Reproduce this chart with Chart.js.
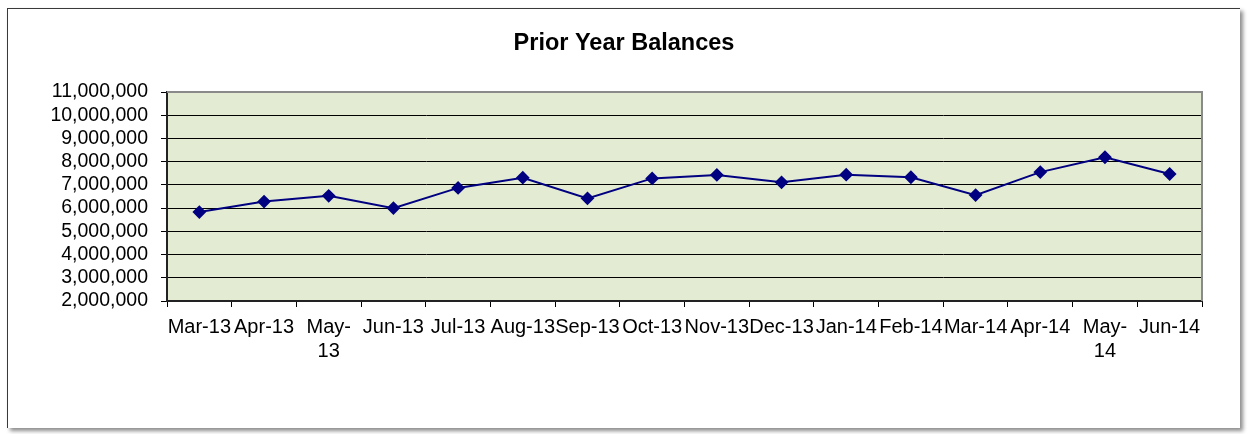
<!DOCTYPE html>
<html>
<head>
<meta charset="utf-8">
<script src="https://cdn.jsdelivr.net/npm/chart.js@4.4.1/dist/chart.umd.min.js"></script>
<style>
  html, body { margin: 0; padding: 0; background: #fff; overflow: hidden; }
  #frame { position: absolute; left: 7px; top: 8px; width: 1232px; height: 419px;
           border-left: 1px solid #3a3a3a; border-top: 1px solid #3a3a3a;
           box-shadow: 3px 3px 4px rgba(0,0,0,0.45); background: #fff; }
  #c { position: absolute; left: 0; top: 0; }
</style>
</head>
<body>
<div id="frame"></div>
<canvas id="c" width="1249" height="434"></canvas>
<script>
const chartTitle = 'Prior Year Balances';
const categories = ['Mar-13','Apr-13','May-13','Jun-13','Jul-13','Aug-13','Sep-13','Oct-13','Nov-13','Dec-13','Jan-14','Feb-14','Mar-14','Apr-14','May-14','Jun-14'];
const tickLabels = ['Mar-13','Apr-13',['May-','13'],'Jun-13','Jul-13','Aug-13','Sep-13','Oct-13','Nov-13','Dec-13','Jan-14','Feb-14','Mar-14','Apr-14',['May-','14'],'Jun-14'];
const balances = [5830000, 6280000, 6530000, 6000000, 6870000, 7310000, 6420000, 7280000, 7430000, 7110000, 7440000, 7330000, 6560000, 7550000, 8190000, 7470000];
const yMin = 2000000, yMax = 11000000, yStep = 1000000;

const FONT = "'Liberation Sans', Arial, sans-serif";

const plotBg = {
  id: 'plotBg',
  beforeDraw(chart) {
    const {ctx, chartArea: a} = chart;
    ctx.save();
    ctx.fillStyle = '#E3EBD2';
    ctx.fillRect(a.left, a.top, a.right - a.left, a.bottom - a.top);
    ctx.restore();
  },
  afterDraw(chart) {
    const {ctx, chartArea: a} = chart;
    ctx.save();
    ctx.strokeStyle = '#8a8a8a';
    ctx.lineWidth = 2;
    ctx.beginPath();
    ctx.moveTo(a.left, a.top);
    ctx.lineTo(a.right, a.top);
    ctx.lineTo(a.right, a.bottom);
    ctx.stroke();
    ctx.fillStyle = '#000';
    ctx.font = 'bold 23.5px ' + FONT;
    ctx.textAlign = 'center';
    ctx.textBaseline = 'alphabetic';
    ctx.fillText(chartTitle, 624, 50);
    ctx.restore();
  }
};

new Chart(document.getElementById('c'), {
  type: 'line',
  data: {
    labels: tickLabels,
    datasets: [{
      label: chartTitle,
      data: balances,
      borderColor: '#000080',
      backgroundColor: '#000080',
      borderWidth: 2,
      pointStyle: 'rectRot',
      pointRadius: 5.5,
      pointHoverRadius: 5.5,
      pointBackgroundColor: '#000080',
      pointBorderColor: '#000080',
      tension: 0
    }]
  },
  options: {
    responsive: false,
    animation: false,
    layout: { padding: { left: 0, top: 92, right: 47, bottom: 0 } },
    plugins: { legend: { display: false }, title: { display: false }, tooltip: { enabled: false } },
    scales: {
      x: {
        offset: true,
        grid: { offset: true, drawOnChartArea: false, color: '#000', tickLength: 6, lineWidth: 1 },
        border: { color: '#222', width: 2 },
        ticks: { color: '#000', font: { family: FONT, size: 20 }, maxRotation: 0, minRotation: 0, autoSkip: false, padding: 8 },
        afterFit(s) { s.height = 133; }
      },
      y: {
        min: yMin, max: yMax,
        grid: { color: '#000', lineWidth: 1, tickLength: 6 },
        border: { color: '#222', width: 2 },
        ticks: {
          stepSize: yStep, color: '#000', padding: 13, autoSkip: false,
          font: { family: FONT, size: 19.5 },
          callback: v => v.toLocaleString('en-US')
        },
        afterFit(s) { s.width = 167; }
      }
    }
  },
  plugins: [plotBg]
});
</script>
</body>
</html>
